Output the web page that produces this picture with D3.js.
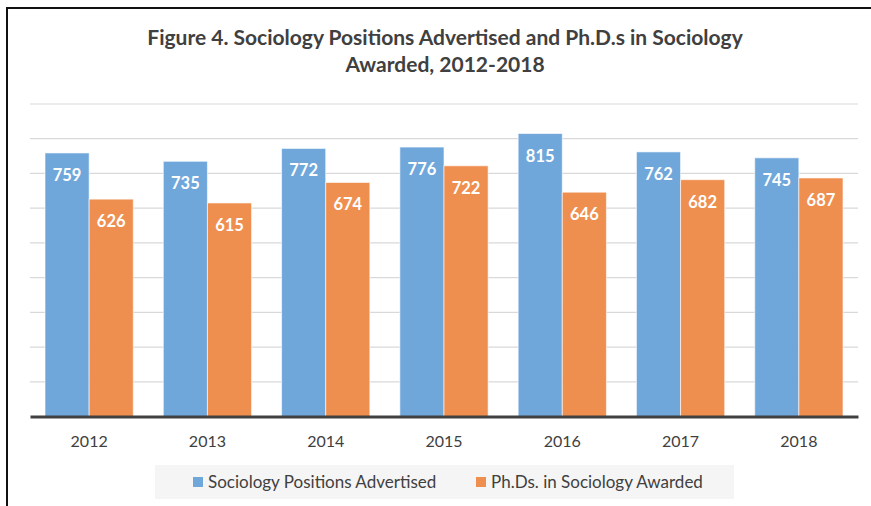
<!DOCTYPE html>
<html>
<head>
<meta charset="utf-8">
<script src="https://cdn.jsdelivr.net/npm/d3@7"></script>
<style>
  body { margin: 0; background: #fff; }
  svg { display: block; font-family: Lato, "Open Sans", sans-serif; }
</style>
</head>
<body>
<div id="chart"></div>
<script>
var years = ["2012", "2013", "2014", "2015", "2016", "2017", "2018"];
var positions = [759, 735, 772, 776, 815, 762, 745];
var phds = [626, 615, 674, 722, 646, 682, 687];
var seriesNames = ["Sociology Positions Advertised", "Ph.Ds. in Sociology Awarded"];
var colors = ["#70a7db", "#ef8f4f"];
var yTicks = [0, 100, 200, 300, 400, 500, 600, 700, 800, 900];

var W = 871, H = 506;
var plot = {left: 30, right: 858, top: 104, bottom: 416.5};

var svg = d3.select("#chart").append("svg")
    .attr("width", W)
    .attr("height", H);

// frame (top and left edges visible)
svg.append("path")
    .attr("d", "M7,506 L7,8 L871,8")
    .attr("fill", "none")
    .attr("stroke", "#111")
    .attr("stroke-width", 2);

// title
var title = svg.append("text")
    .attr("text-anchor", "middle")
    .attr("font-weight", "bold")
    .attr("font-size", 21)
    .attr("fill", "#404040");
title.append("tspan").attr("x", 445).attr("y", 45)
    .text("Figure 4. Sociology Positions Advertised and Ph.D.s in Sociology");
title.append("tspan").attr("x", 445).attr("y", 72)
    .text("Awarded, 2012-2018");

var x = d3.scaleBand().domain(years).range([plot.left, plot.right]).paddingInner(0).paddingOuter(0);
var x1 = d3.scaleBand().domain([0, 1]).range([0, x.bandwidth()]).paddingOuter(0.34).paddingInner(0);
var y = d3.scaleLinear().domain([0, 900]).range([plot.bottom, plot.top]);

// gridlines
svg.append("g")
  .selectAll("line")
  .data(yTicks.slice(1))
  .enter().append("line")
    .attr("x1", plot.left).attr("x2", plot.right)
    .attr("y1", function(d) { return y(d); })
    .attr("y2", function(d) { return y(d); })
    .attr("stroke", "#d9d9d9")
    .attr("stroke-width", 1.2);

// bars
var rows = years.map(function(yr, i) {
  return {year: yr, vals: [positions[i], phds[i]]};
});

var groups = svg.append("g").selectAll("g")
    .data(rows)
    .enter().append("g")
    .attr("transform", function(d) { return "translate(" + x(d.year) + ",0)"; });

groups.selectAll("rect")
    .data(function(d) { return d.vals.map(function(v, k) { return {k: k, v: v}; }); })
    .enter().append("rect")
    .attr("x", function(d) { return x1(d.k); })
    .attr("width", x1.bandwidth())
    .attr("y", function(d) { return y(d.v); })
    .attr("height", function(d) { return plot.bottom - y(d.v); })
    .attr("fill", function(d) { return colors[d.k]; })
    .attr("stroke", "#fff")
    .attr("stroke-opacity", 0.6)
    .attr("stroke-width", 1);

groups.selectAll("text")
    .data(function(d) { return d.vals.map(function(v, k) { return {k: k, v: v}; }); })
    .enter().append("text")
    .attr("x", function(d) { return x1(d.k) + x1.bandwidth() / 2; })
    .attr("y", function(d) { return y(d.v) + 28; })
    .attr("text-anchor", "middle")
    .attr("font-weight", "bold")
    .attr("font-size", 16.5)
    .attr("fill", "#fff")
    .text(function(d) { return d.v; });

// x axis
var xAxis = svg.append("g")
    .attr("transform", "translate(0," + plot.bottom + ")")
    .call(d3.axisBottom(x).tickSize(0).tickPadding(19));
xAxis.select(".domain")
    .attr("stroke", "#404040")
    .attr("stroke-width", 3);
xAxis.selectAll("text")
    .attr("font-family", "Lato, 'Open Sans', sans-serif")
    .attr("font-size", 16)
    .attr("fill", "#404040");

// legend
var legend = svg.append("g");
legend.append("rect")
    .attr("x", 155).attr("y", 465)
    .attr("width", 579).attr("height", 34)
    .attr("fill", "#f5f5f5");
var legendX = [193, 476];
seriesNames.forEach(function(name, i) {
  legend.append("rect")
      .attr("x", legendX[i]).attr("y", 477)
      .attr("width", 10).attr("height", 10)
      .attr("fill", colors[i]);
  legend.append("text")
      .attr("x", legendX[i] + 15).attr("y", 488)
      .attr("font-size", 17)
      .attr("fill", "#404040")
      .text(name);
});
</script>
</body>
</html>
